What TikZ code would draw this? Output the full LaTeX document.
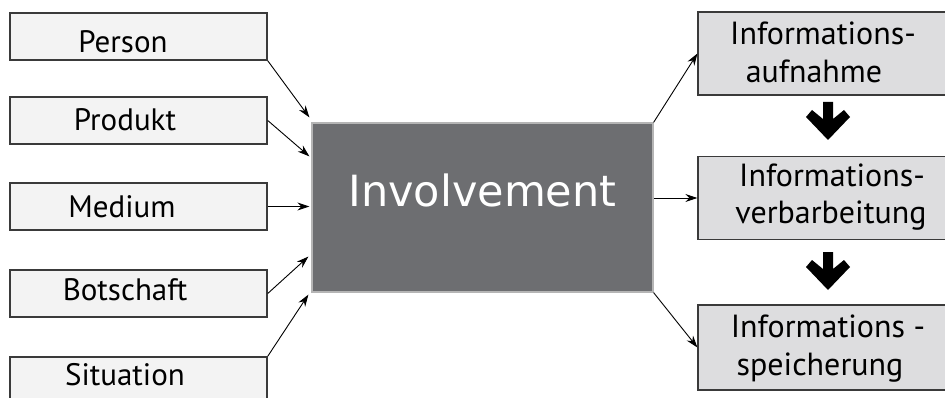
\documentclass[tikz,border=0pt]{standalone}
\usepackage{fontspec}
\setmainfont{PT Sans}
\newfontfamily\invfont{DejaVu Sans}
\usetikzlibrary{arrows.meta}
\definecolor{lfill}{HTML}{F3F3F3}
\definecolor{rfill}{HTML}{DDDDDF}
\definecolor{cfill}{HTML}{6D6E71}
\definecolor{cborder}{HTML}{B5B5B5}
\definecolor{bdark}{HTML}{3A3A3A}
\tikzset{
  lbox/.style={draw=bdark, fill=lfill, line width=1.5pt, minimum width=257pt, minimum height=47pt, inner sep=0pt},
  rbox/.style={draw=bdark, fill=rfill, line width=1.2pt, minimum width=250pt, minimum height=83pt, inner sep=0pt},
  ltext/.style={anchor=base, font=\fontsize{31}{34}\selectfont, inner sep=0pt},
  rtext/.style={anchor=base, font=\fontsize{32}{36}\selectfont, inner sep=0pt},
  conn/.style={draw=black, line width=0.9pt, -{Stealth[length=12pt,width=8pt]}},
  bigarrow/.style={fill=black, draw=none}
}
\begin{document}
\begin{tikzpicture}[x=1pt,y=-1pt]
\useasboundingbox (0,0) rectangle (945,398);
\clip (0,0) rectangle (945,398);
% left boxes
\node[lbox] (person) at (138.5,36.5) {};
\node[lbox] (produkt) at (138.5,120.5) {};
\node[lbox] (medium) at (138.5,206.5) {};
\node[lbox] (botschaft) at (138.5,293.5) {};
\node[lbox] (situation) at (138.5,380.5) {};
\node[ltext] (tperson) at (123,53) {Person};
\node[ltext] (tprodukt) at (125,131) {Produkt};
\node[ltext] (tmedium) at (122,218) {Medium};
\node[ltext] (tbotschaft) at (125,300) {Botschaft};
\node[ltext] (tsituation) at (125,385) {Situation};
% central box
\node[draw=cborder, fill=cfill, line width=1.2pt, minimum width=341pt, minimum height=169pt, inner sep=0pt] (inv) at (482.5,207.5) {};
\node[anchor=base, text=white, inner sep=0pt, font=\invfont\fontsize{43}{48}\selectfont] (tinv) at (482.5,207) {Involvement};
% right boxes
\node[rbox] (ia) at (823,53.5) {};
\node[rbox] (iv) at (823,198) {};
\node[rbox, minimum height=85pt] (is) at (823,347.5) {};
\node[rtext] (ta1) at (823,45) {Informations-};
\node[rtext] (ta2) at (814,83) {aufnahme};
\node[rtext] (tv1) at (832,187) {Informations-};
\node[rtext] (tv2) at (831,223) {verbarbeitung};
\node[rtext] (ts1) at (828,337) {Informations -};
\node[rtext] (ts2) at (820,375) {speicherung};
% left connectors
\draw[conn] (person.south east) -- ([xshift=-2pt,yshift=5pt]inv.north west);
\draw[conn] (produkt.east) -- ([xshift=-2pt,yshift=-34pt]inv.north west);
\draw[conn] (medium.east) -- ([xshift=-2pt]medium.east -| inv.west);
\draw[conn] (botschaft.east) -- ([xshift=-3pt,yshift=36pt]inv.south west);
\draw[conn] (situation.north east) -- ([xshift=-3pt,yshift=-2pt]inv.south west);
% right connectors
\draw[conn] (inv.north east) -- (ia.west);
\draw[conn] (inv.east |- iv.west) -- (iv.west);
\draw[conn] (inv.south east) -- (is.west);
% big down arrows
\coordinate (a1) at (828,102);
\coordinate (a2) at (828,252);
\foreach \c in {a1,a2}{
  \fill[bigarrow] (\c) ++(-5,0) -- ++(10,0) -- ++(0,17) -- ++(11,-9) -- ++(6,7) -- ++(-22,23) -- ++(-22,-23) -- ++(6,-7) -- ++(11,9) -- cycle;
}
\end{tikzpicture}
\end{document}
